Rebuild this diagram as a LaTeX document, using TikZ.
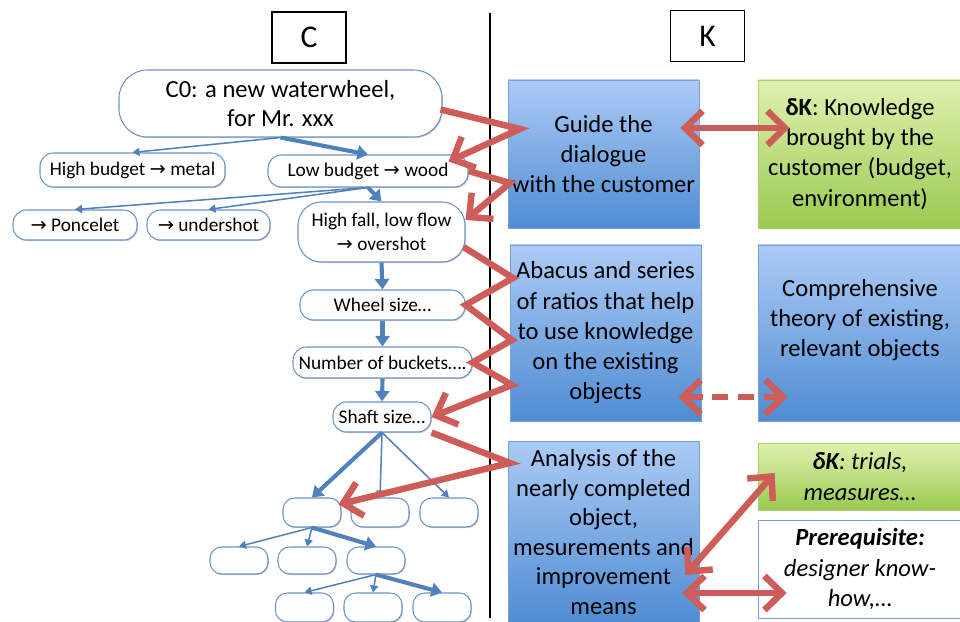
\documentclass[tikz,border=0pt]{standalone}
\usepackage{fontspec}
\setmainfont{Carlito}
\newfontfamily\arrowfont{DejaVu Sans}
\usetikzlibrary{arrows.meta, calc, shadows}

\definecolor{treeblue}{RGB}{79,129,189}
\definecolor{nodeedge}{RGB}{108,146,202}
\definecolor{redarrow}{RGB}{206,92,88}
\definecolor{kbluetop}{RGB}{172,203,246}
\definecolor{kbluebot}{RGB}{80,140,210}
\definecolor{kblueedge}{RGB}{118,160,216}
\definecolor{kgreentop}{RGB}{224,241,176}
\definecolor{kgreenbot}{RGB}{154,202,80}
\definecolor{kgreenedge}{RGB}{170,205,110}

\newcommand{\toarrow}{{\arrowfont →}}

\begin{document}
\begin{tikzpicture}[
    x=0.03cm, y=-0.03cm,
    >=Stealth,
    header/.style={draw, line width=1pt, minimum width=2.22cm, minimum height=1.53cm, font=\fontsize{27}{30}\selectfont},
    concept/.style={draw=nodeedge, line width=0.9pt, fill=white, rounded corners=0.4cm, minimum height=0.9cm, inner sep=1pt, align=center, font=\fontsize{16.5}{20}\selectfont, drop shadow={shadow xshift=0.8pt, shadow yshift=-1pt, fill=black, opacity=0.2}},
    blank/.style={concept, minimum width=1.74cm, minimum height=0.87cm, rounded corners=0.35cm},
    kbox/.style={draw=kblueedge, line width=0.6pt, top color=kbluetop, bottom color=kbluebot, inner sep=2pt, align=center, font=\fontsize{21}{25.8}\selectfont, drop shadow={shadow xshift=1pt, shadow yshift=-1.2pt, fill=black, opacity=0.25}},
    delta/.style={kbox, draw=kgreenedge, top color=kgreentop, bottom color=kgreenbot},
    plain/.style={kbox, draw=kblueedge, fill=white, top color=white, bottom color=white},
    branch/.style={draw=treeblue, line width=1.3pt, -{Triangle[length=6pt, width=7pt]}},
    trunk/.style={draw=treeblue, line width=3.5pt, -{Triangle[length=9pt, width=12pt]}},
    zig/.style={draw=redarrow, line width=5.5pt, -{Straight Barb[length=15pt, width=29pt]}},
    link/.style={draw=redarrow, line width=5.5pt, {Straight Barb[length=15pt, width=29pt]}-{Straight Barb[length=15pt, width=29pt]}}
]
\useasboundingbox (0, 0) rectangle (960, 621);

\node (lblC) at (309, 37.5) [header] {C};
\node (lblK) at (707.5, 36) [header] {K};
\draw[line width=1.5pt] (490, 13) -- (490, 618);

% C side
\node (c0) at (280.5, 103.5) [concept, minimum width=9.69cm, minimum height=2.01cm, rounded corners=0.85cm, font=\fontsize{21}{25.5}\selectfont] {C0: a new waterwheel,\\for Mr. xxx};
\node (metal) at (132.5, 170) [concept, minimum width=5.55cm, minimum height=1.02cm] {High budget \toarrow{} metal};
\node (wood) at (368, 171) [concept, minimum width=6cm, minimum height=0.96cm] {Low budget \toarrow{} wood};
\node (poncelet) at (75, 225) [concept, minimum width=3.72cm] {\toarrow{} Poncelet};
\node (undershot) at (208.5, 225) [concept, minimum width=3.69cm] {\toarrow{} undershot};
\node (overshot) at (381.5, 232) [concept, minimum width=5.01cm, minimum height=1.8cm, rounded corners=0.7cm] {High fall, low flow\\\toarrow{} overshot};
\node (wheel) at (382.5, 305) [concept, minimum width=4.95cm] {Wheel size…};
\node (buckets) at (382.5, 362.5) [concept, minimum width=5.37cm, minimum height=0.93cm] {Number of buckets….};
\node (shaft) at (382, 417) [concept, minimum width=2.94cm] {Shaft size…};

\node (e1) at (312, 512.5) [blank] {};
\node (e2) at (380, 512.5) [blank] {};
\node (e3) at (449, 512.5) [blank] {};
\node (f1) at (239, 560.5) [blank, minimum height=0.81cm] {};
\node (f2) at (307, 560.5) [blank, minimum height=0.81cm] {};
\node (f3) at (376, 560.5) [blank, minimum height=0.81cm] {};
\node (g1) at (304.5, 607.5) [blank] {};
\node (g2) at (373, 607.5) [blank] {};
\node (g3) at (442, 607.5) [blank] {};

\draw[branch] (c0.south) -- (metal.north);
\draw[trunk] (c0.south) -- (wood.north);
\draw[branch] (wood.south) -- (poncelet.north);
\draw[branch] (wood.south) -- (undershot.north);
\draw[trunk] (wood.south) -- (overshot.north);
\draw[trunk] (overshot.south) -- (wheel.north);
\draw[trunk] (wheel.south) -- (buckets.north);
\draw[trunk] (buckets.south) -- (shaft.north);
\draw[trunk] (shaft.south) -- (e1.north);
\draw[branch] (shaft.south) -- (e2.north);
\draw[branch] (shaft.south) -- (e3.north);
\draw[branch] (e1.south) -- (f1.north);
\draw[branch] (e1.south) -- (f2.north);
\draw[trunk] (e1.south) -- (f3.north);
\draw[branch] (f3.south) -- (g1.north);
\draw[branch] (f3.south) -- (g2.north);
\draw[trunk] (f3.south) -- (g3.north);

% K side
\node (guide) at (603.5, 154) [kbox, minimum width=5.73cm, minimum height=4.44cm] {Guide the\\dialogue\\with the customer};
\node (dkKnow) at (860, 154) [delta, minimum width=6.12cm, minimum height=4.44cm] {\textbf{δK}: Knowledge\\brought by the\\customer (budget,\\environment)};
\node (abacus) at (605.5, 333) [kbox, minimum width=5.73cm, minimum height=5.28cm] {Abacus and series\\of ratios that help\\to use knowledge\\on the existing\\objects};
\node (theory) at (860, 333) [kbox, minimum width=6.12cm, minimum height=5.28cm] {Comprehensive\\theory of existing,\\relevant objects\\\mbox{}};
\node (analysis) at (603.5, 532) [kbox, minimum width=5.73cm, minimum height=5.46cm, font=\fontsize{21}{25.2}\selectfont] {Analysis of the\\nearly completed\\object,\\mesurements and\\improvement\\means};
\node (dkTrials) at (860, 476.5) [delta, minimum width=6.12cm, minimum height=2.01cm] {\textit{\textbf{δK}: trials,}\\\textit{measures…}};
\node (prereq) at (860, 569) [plain, minimum width=6.12cm, minimum height=2.94cm] {\textbf{\textit{Prerequisite:}}\\\textit{designer know-}\\\textit{how,…}};

% C-K links
\coordinate (t1) at (520, 129);
\coordinate (t2) at (510, 183);
\coordinate (t3) at (513, 278);
\coordinate (t4) at (512, 340);
\coordinate (t5) at (512, 385);
\coordinate (t6) at (510, 463);

\draw[zig] ($(c0.east)+(-2,6)$) -- (t1) -- ($(wood.north east)+(-20,7)$);
\draw[zig] (wood.east) -- (t2) -- ($(overshot.east)+(0,-12)$);
\draw[zig] ($(overshot.east)+(-2,15)$) -- (t3) -- (wheel.east) -- (t4) -- (buckets.east) -- (t5) -- (shaft.east);
\draw[zig] (shaft.south east) -- (t6) -- ($(e1.north east)+(-3,7)$);

\draw[link] ([shift={(-19,-26)}]guide.east) -- ([shift={(32,-26)}]dkKnow.west);
\draw[link, dash pattern=on 14pt off 8pt] ([shift={(-23,64)}]abacus.east) -- ([shift={(30,64)}]theory.west);
\draw[link] ([shift={(-14,43)}]analysis.east) -- ([shift={(17,-3.5)}]dkTrials.west);
\draw[link] ([shift={(-17,61)}]analysis.east) -- ([shift={(29,24)}]prereq.west);

\end{tikzpicture}
\end{document}
